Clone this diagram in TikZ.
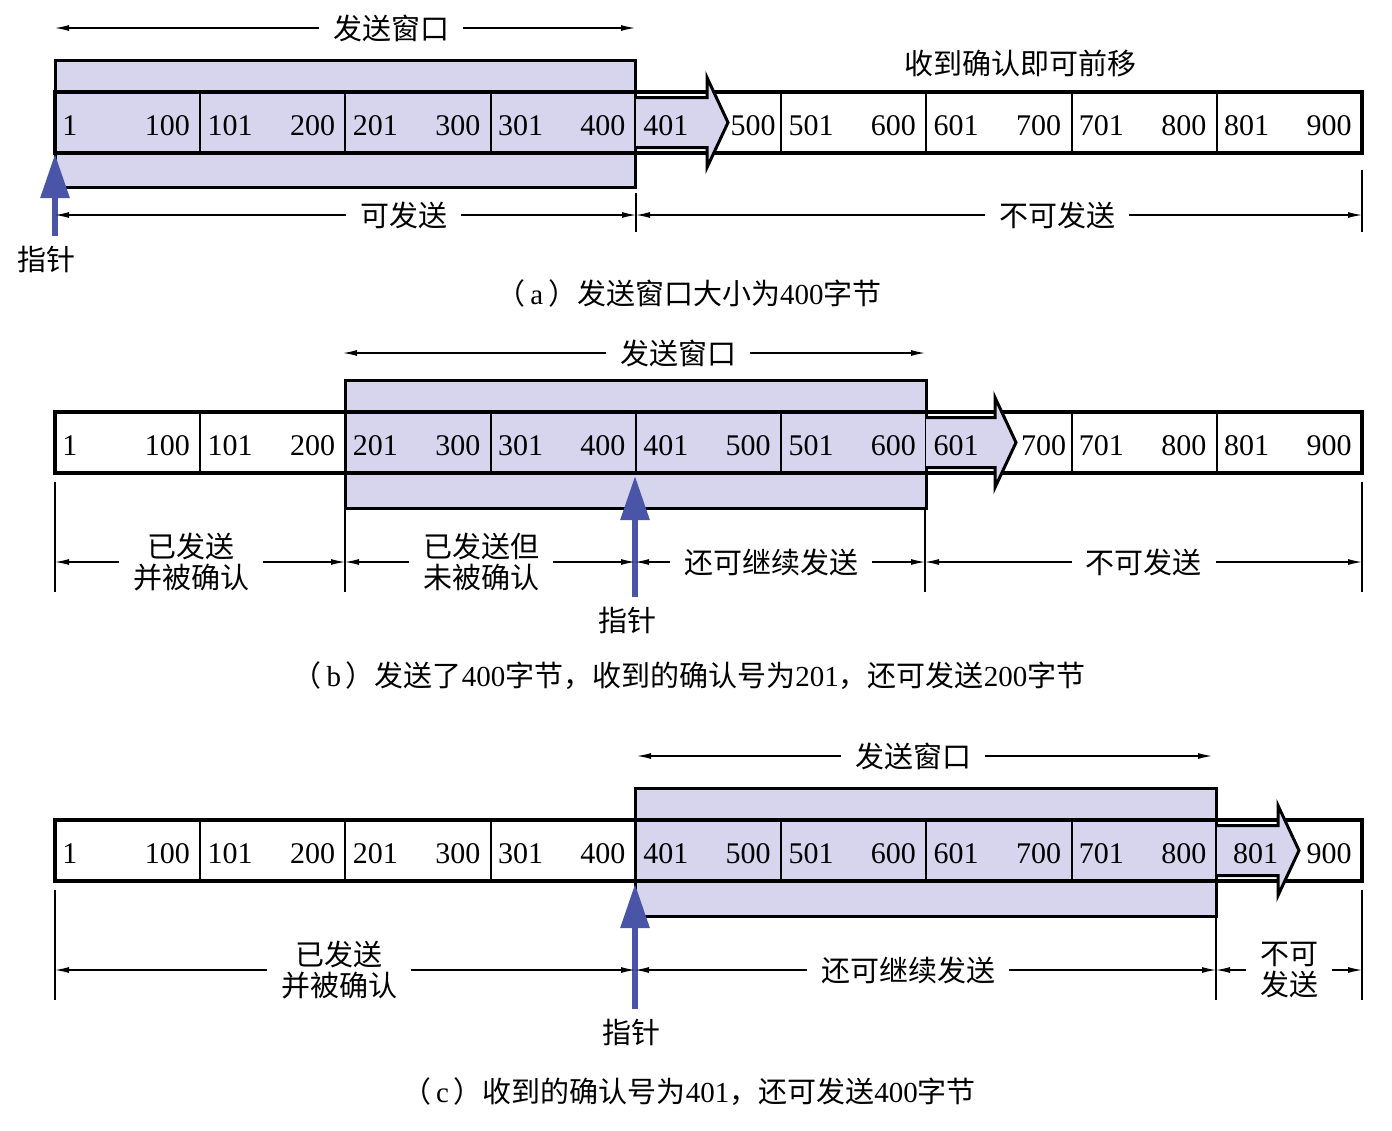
\documentclass[tikz,border=0pt]{standalone}
\usepackage{fontspec}
\setmainfont{Liberation Serif}
\newfontfamily\cjk{Noto Sans CJK SC}
\usetikzlibrary{arrows.meta,positioning}
\definecolor{WinFill}{HTML}{D7D4EE}
\definecolor{PtrBlue}{HTML}{4A55A8}
\newcommand{\zhtext}[1]{{\cjk #1}}
% shaded arrow that shows the window moving: start x, middle y, tip x
\newcommand{\movearrow}[3]{%
  \draw[movearr] (#1,#2-25) -- (#3-21,#2-25) -- (#3-21,#2-45) -- (#3,#2)
    -- (#3-21,#2+45) -- (#3-21,#2+25) -- (#1,#2+25);}

\begin{document}
\begin{tikzpicture}[x=0.5pt,y=-0.5pt,
  win/.style={draw,fill=WinFill,line width=1.5pt},
  stripbox/.style={draw,line width=1.7pt},
  cellsep/.style={line width=1pt},
  movearr/.style={draw,fill=WinFill,line width=1.5pt,line join=miter},
  ptr/.style={PtrBlue,line width=3pt,-{Triangle[width=14pt,length=22pt]}},
  dim/.style={line width=0.6pt,{Latex[length=7pt,width=3pt]}-{Latex[length=7pt,width=3pt]}},
  tickline/.style={line width=0.7pt},
  num/.style={inner sep=2pt,font=\fontsize{15}{18}\selectfont},
  zh/.style={inner sep=2pt,font=\fontsize{14.5}{15.5}\selectfont\cjk,align=center},
  dimlbl/.style={zh,fill=white,inner xsep=7pt,inner ysep=1pt},
  caption/.style={inner sep=2pt,font=\fontsize{14.5}{18}\selectfont}]
  \useasboundingbox (0,0) rectangle (1392,1130);

  % send windows
  \draw[win] (55,60) rectangle ({55+145.22*4},187);
  \draw[win] ({55+145.22*2},380) rectangle ({55+145.22*6},508);
  \draw[win] ({55+145.22*4},788) rectangle ({55+145.22*8},916);

  % byte strips
  \foreach \r/\ty in {a/92,b/412,c/820} {
    \draw[stripbox] (55,\ty) rectangle (1362,\ty+61);
    \foreach \i in {1,...,8}
      \draw[cellsep] ({55+145.22*\i},\ty) -- ({55+145.22*\i},\ty+61);
  }

  % window moves on
  \movearrow{636}{122.5}{728}
  \movearrow{926}{442.5}{1016}
  \movearrow{1217}{850.5}{1299}

  % byte numbers
  \foreach \r/\ty/\rs/\ac in {a/92/0/4,b/412/0/6,c/820/9/-1} {
    \foreach \i in {0,...,8} {
      \pgfmathtruncatemacro{\lo}{100*\i+1}
      \pgfmathtruncatemacro{\hi}{100*\i+100}
      \pgfmathsetmacro{\dx}{(\i==8)*\rs}
      \pgfmathsetmacro{\ex}{(\i==\ac)*5}
      \node[num,anchor=west] (\r lo\i) at ({55+145.22*\i+3+\dx},\ty+34) {\lo};
      \node[num,anchor=east] (\r hi\i) at ({55+145.22*(\i+1)-6+\ex},\ty+34) {\hi};
    }
  }
  \node[zh] (shift) at (1020,63) {收到确认即可前移};

  % pointers
  \coordinate (pa0) at (55,236);  \coordinate (pa1) at (55,154);
  \coordinate (pb0) at (635,597); \coordinate (pb1) at (635,476);
  \coordinate (pc0) at (635,1009); \coordinate (pc1) at (635,884);
  \draw[ptr] (pa0) -- (pa1);
  \draw[ptr] (pb0) -- (pb1);
  \draw[ptr] (pc0) -- (pc1);
  \node[zh,below=3pt of pa0,xshift=-4pt] (pla) {指针};
  \node[zh,below=3pt of pb0,xshift=-4pt] (plb) {指针};
  \node[zh,below=3pt of pc0,xshift=-2pt] (plc) {指针};

  % (a)
  \coordinate (aT0) at (55,28);   \coordinate (aT1) at (635,28);
  \coordinate (aB0) at (55,215);  \coordinate (aB1) at (636,215);
  \coordinate (aB2) at (1362,215);
  \draw[dim] (aT0) -- node[dimlbl,pos=0.58] (aw) {发送窗口} (aT1);
  \draw[dim] (aB0) -- node[dimlbl,pos=0.6] (ac) {可发送} (aB1);
  \draw[dim] (aB1) -- node[dimlbl,pos=0.58] (an) {不可发送} (aB2);
  \draw[tickline] (636,193) -- (636,232);
  \draw[tickline] (1362,170) -- (1362,232);
  \node[caption] (capa) at (689,293)
    {\zhtext{（}\,a\,\zhtext{）发送窗口大小为}400\zhtext{字节}};

  % (b)
  \coordinate (bT0) at (343,353); \coordinate (bT1) at (925,353);
  \coordinate (bB0) at (55,562);  \coordinate (bB1) at (345,562);
  \coordinate (bB2) at (635,562); \coordinate (bB3) at (925,562);
  \coordinate (bB4) at (1362,562);
  \draw[dim] (bT0) -- node[dimlbl,pos=0.576] (bw) {发送窗口} (bT1);
  \draw[dim] (bB0) -- node[dimlbl,pos=0.47] (bd) {已发送\\并被确认} (bB1);
  \draw[dim] (bB1) -- node[dimlbl,pos=0.47] (bu) {已发送但\\未被确认} (bB2);
  \draw[dim] (bB2) -- node[dimlbl,pos=0.47] (bc) {还可继续发送} (bB3);
  \draw[dim] (bB3) -- node[dimlbl,pos=0.5] (bn) {不可发送} (bB4);
  \foreach \tx/\ya in {55/482,345/508,925/508,1362/482}
    \draw[tickline] (\tx,\ya) -- (\tx,592);
  \node[caption] (capb) at (689,676)
    {\zhtext{（}\,b\,\zhtext{）发送了}400\zhtext{字节，收到的确认号为}201\zhtext{，还可发送}200\zhtext{字节}};

  % (c)
  \coordinate (cT0) at (637,756); \coordinate (cT1) at (1212,756);
  \coordinate (cB0) at (55,970);  \coordinate (cB1) at (635,970);
  \coordinate (cB2) at (1216,970); \coordinate (cB3) at (1362,970);
  \draw[dim] (cT0) -- node[dimlbl,pos=0.48] (cw) {发送窗口} (cT1);
  \draw[dim] (cB0) -- node[dimlbl,pos=0.49] (cd) {已发送\\并被确认} (cB1);
  \draw[dim] (cB1) -- node[dimlbl,pos=0.47] (cc) {还可继续发送} (cB2);
  \draw[dim] (cB2) -- node[dimlbl,pos=0.5] (cn) {不可\\发送} (cB3);
  \foreach \tx/\ya in {55/890,1216/916,1362/890}
    \draw[tickline] (\tx,\ya) -- (\tx,1000);
  \node[caption] (capc) at (689,1092)
    {\zhtext{（}\,c\,\zhtext{）收到的确认号为}401\zhtext{，还可发送}400\zhtext{字节}};
\end{tikzpicture}
\end{document}
